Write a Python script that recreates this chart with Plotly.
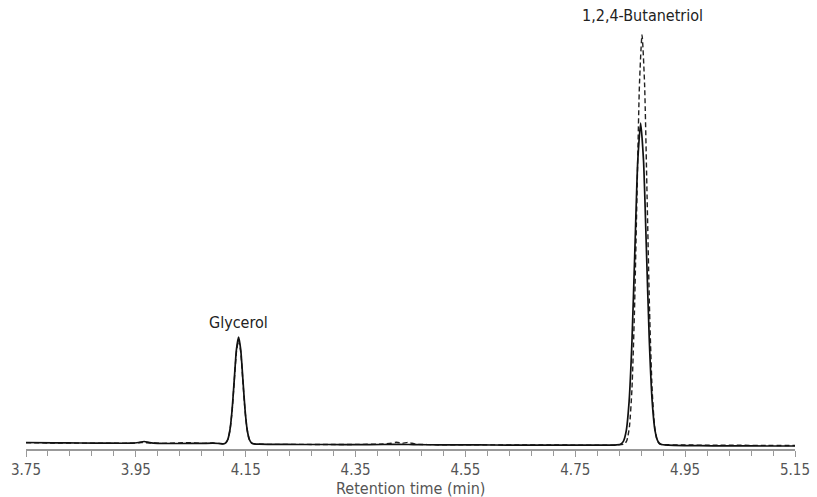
import plotly.graph_objects as go

# Retention time (min) and detector response (arbitrary units)
solid_time = [3.75, 3.80, 3.85, 3.90, 3.94, 3.955, 3.965, 3.975, 3.99, 4.03, 4.07, 4.09, 4.102,
              4.1097, 4.1136, 4.1175, 4.1214, 4.1253, 4.1292, 4.1331, 4.137, 4.1409, 4.1448,
              4.1487, 4.1526, 4.1565, 4.1604, 4.1643, 4.175, 4.20, 4.25, 4.30, 4.35, 4.40,
              4.43, 4.46, 4.50, 4.55, 4.60, 4.65, 4.70, 4.75, 4.80, 4.82, 4.83225,
              4.8375, 4.84275, 4.848, 4.85325, 4.8585, 4.86375, 4.869, 4.87425, 4.8795,
              4.88475, 4.890, 4.89525, 4.9005, 4.90575, 4.92, 4.95, 5.00, 5.05, 5.10, 5.15]
solid_signal = [6.5, 6.2, 6.0, 5.8, 5.8, 6.5, 7.5, 6.3, 5.6, 5.5, 5.6, 5.8, 5.5,
                5.2, 6.2, 9.7, 19.5, 39.7, 69.9, 99.4, 112.0, 99.4, 69.9,
                39.7, 19.5, 9.7, 6.2, 5.2, 4.8, 4.6, 4.5, 4.5, 4.4, 4.5,
                4.7, 4.3, 4.2, 4.1, 4.0, 3.9, 3.9, 3.8, 3.8, 3.9, 4.7,
                7.6, 18.1, 47.6, 108.6, 199.3, 288.2, 326.0, 288.2, 199.3,
                108.6, 47.6, 18.1, 7.6, 4.7, 3.8, 3.4, 3.2, 3.1, 3.0, 3.0]

dashed_time = [3.75, 3.80, 3.85, 3.90, 3.94, 3.96, 3.98, 4.00, 4.045, 4.07, 4.09, 4.102,
               4.1097, 4.1136, 4.1175, 4.1214, 4.1253, 4.1292, 4.1331, 4.137, 4.1409, 4.1448,
               4.1487, 4.1526, 4.1565, 4.1604, 4.1643, 4.175, 4.20, 4.25, 4.30, 4.35, 4.40,
               4.415, 4.425, 4.435, 4.445, 4.46, 4.50, 4.55, 4.60, 4.65, 4.70, 4.75, 4.80,
               4.825, 4.8393, 4.8439, 4.8485, 4.8531, 4.8577, 4.8623, 4.8669, 4.8715,
               4.8761, 4.8807, 4.8853, 4.8899, 4.8945, 4.8991, 4.9037, 4.92, 4.95, 5.00,
               5.05, 5.10, 5.15]
dashed_signal = [6.3, 6.0, 5.9, 5.8, 5.8, 6.4, 6.0, 5.6, 6.4, 5.6, 6.0, 5.5,
                 5.2, 6.2, 9.6, 19.1, 38.8, 68.1, 96.8, 109.0, 96.8, 68.1,
                 38.8, 19.1, 9.6, 6.2, 5.2, 4.8, 4.6, 4.6, 4.5, 4.6, 5.0,
                 5.8, 6.8, 5.6, 6.6, 4.8, 4.3, 4.2, 4.1, 4.0, 4.0, 3.9, 3.9,
                 4.0, 4.9, 8.6, 22.0, 59.5, 137.1, 252.7, 365.8, 414.0,
                 365.8, 252.7, 137.1, 59.5, 22.0, 8.6, 4.9, 4.2, 4.0, 3.8,
                 3.7, 3.6, 3.5]

peak_names = ["Glycerol", "1,2,4-Butanetriol"]
peak_label_time = [4.137, 4.8715]
peak_label_signal = [127, 434]

tick_values = [3.75, 3.95, 4.15, 4.35, 4.55, 4.75, 4.95, 5.15]
tick_text = ["3.75", "3.95", "4.15", "4.35", "4.55", "4.75", "4.95", "5.15"]
x_title = "Retention time (min)"

FONT = "Liberation Sans Narrow, DejaVu Sans Condensed, Roboto, sans-serif"

fig = go.Figure()
fig.add_trace(go.Scatter(x=dashed_time, y=dashed_signal, mode="lines",
                         line=dict(color="#222222", width=1.4, dash="5px,3px",
                                   shape="spline", smoothing=0.6),
                         showlegend=False, hoverinfo="skip"))
fig.add_trace(go.Scatter(x=solid_time, y=solid_signal, mode="lines",
                         line=dict(color="#111111", width=1.7,
                                   shape="spline", smoothing=0.6),
                         showlegend=False, hoverinfo="skip"))

for name, t, s in zip(peak_names, peak_label_time, peak_label_signal):
    fig.add_annotation(x=t, y=s, text=name, showarrow=False, xanchor="center",
                       yanchor="middle", font=dict(family=FONT, size=16, color="#222222"))

fig.add_annotation(x=0.5, xref="paper", y=-0.087, yref="paper", text=x_title,
                   showarrow=False, xanchor="center", yanchor="middle",
                   font=dict(family=FONT, size=16, color="#555555"))

fig.update_layout(
    width=817, height=497,
    margin=dict(l=26, r=22, t=0, b=48),
    paper_bgcolor="white", plot_bgcolor="white",
    font=dict(family=FONT),
    xaxis=dict(range=[3.75, 5.15], tickvals=tick_values, ticktext=tick_text,
               automargin=False,
               ticks="outside", ticklen=6, tickcolor="#999999", tickwidth=1,
               showline=True, linecolor="#999999", linewidth=1.5,
               showgrid=False, zeroline=False,
               tickfont=dict(family=FONT, size=15, color="#555555"),
               minor=dict(dtick=0.04, tick0=3.75, ticks="outside", ticklen=5,
                          tickcolor="#999999", tickwidth=1, showgrid=False)),
    yaxis=dict(range=[0, 449], visible=False, automargin=False),
)

fig.write_html("out.html", config={"displayModeBar": False, "staticPlot": True},
               post_script="document.body.style.margin='0';document.body.style.padding='0';")
